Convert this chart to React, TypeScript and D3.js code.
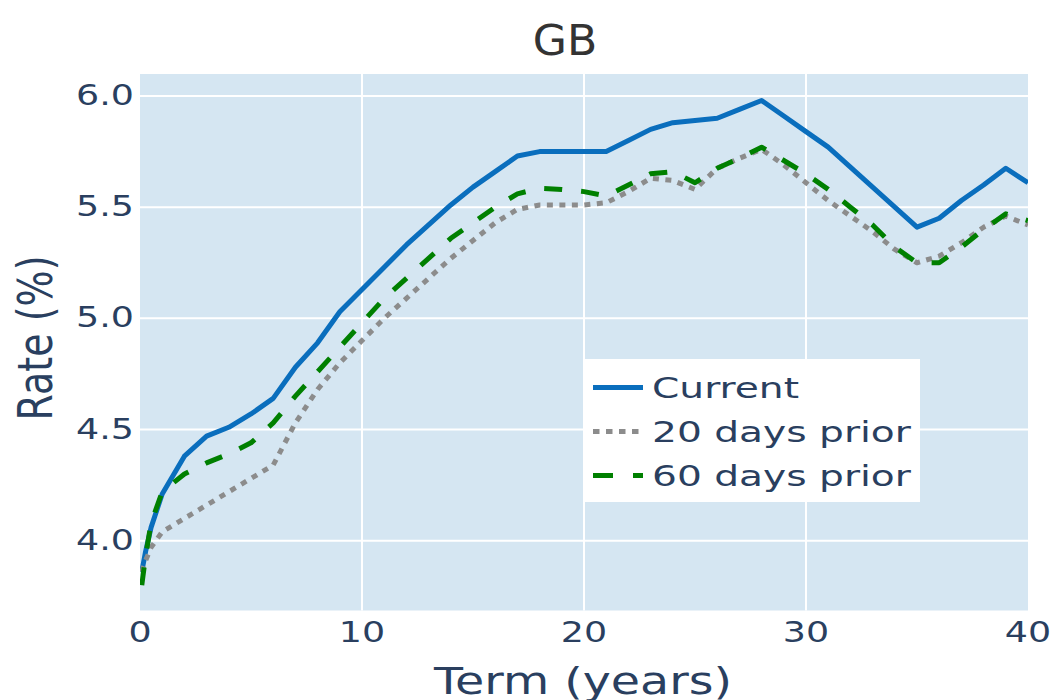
import React from 'react';
import * as d3 from 'd3';

// term structure (years) and rates (%)
const terms = [0.08, 0.25, 0.5, 1, 2, 3, 4, 5, 6, 7, 8, 9, 10, 11, 12, 13, 14, 15, 16, 17, 18, 19, 20,
  21, 22, 23, 24, 25, 26, 27, 28, 29, 30, 31, 32, 33, 34, 35, 36, 37, 38, 39, 40];

const current = [3.86, 3.95, 4.06, 4.21, 4.38, 4.47, 4.51, 4.57, 4.64, 4.78, 4.89, 5.03, 5.13, 5.23, 5.33,
  5.42, 5.51, 5.59, 5.66, 5.73, 5.75, 5.75, 5.75, 5.75, 5.80, 5.85, 5.88, 5.89, 5.90, 5.94, 5.98, 5.91,
  5.84, 5.77, 5.68, 5.59, 5.50, 5.41, 5.45, 5.53, 5.60, 5.675, 5.61];

const prior20 = [3.86, 3.91, 3.97, 4.04, 4.10, 4.16, 4.22, 4.28, 4.34, 4.53, 4.68, 4.80, 4.90, 5.00, 5.09,
  5.18, 5.27, 5.35, 5.43, 5.49, 5.51, 5.51, 5.51, 5.52, 5.57, 5.63, 5.62, 5.58, 5.675, 5.72, 5.76, 5.69,
  5.61, 5.53, 5.46, 5.39, 5.31, 5.25, 5.28, 5.34, 5.41, 5.46, 5.42];

const prior60 = [3.80, 3.93, 4.08, 4.22, 4.30, 4.35, 4.39, 4.44, 4.53, 4.65, 4.76, 4.87, 4.98, 5.09, 5.18,
  5.27, 5.36, 5.43, 5.50, 5.56, 5.585, 5.58, 5.57, 5.55, 5.60, 5.65, 5.66, 5.61, 5.675, 5.72, 5.77, 5.71,
  5.65, 5.58, 5.50, 5.42, 5.32, 5.25, 5.25, 5.32, 5.40, 5.47, 5.44];

const xTicks = [0, 10, 20, 30, 40];
const yTicks = [4.0, 4.5, 5.0, 5.5, 6.0];

const series = [
  { name: 'Current', values: current, color: '#0a6ebd', dash: undefined },
  { name: '20 days prior', values: prior20, color: '#8c8c8c', dash: '6,6.5' },
  { name: '60 days prior', values: prior60, color: '#008000', dash: '18,19' },
];

const W = 1056;
const H = 700;
const left = 140, right = 1028, top = 74, bottom = 610.5;
const ink = '#2a3f5f';
const font = '"DejaVu Sans", Verdana, sans-serif';

// text looks stretched sideways in the original
const SText = ({ x, y, sx = 1.3, size, anchor = 'start', fill = ink, rotate = 0, children }: any) => (
  <text
    transform={`translate(${x},${y}) scale(${sx},1)${rotate ? ` rotate(${rotate})` : ''}`}
    textAnchor={anchor}
    fontFamily={font}
    fontSize={size}
    fill={fill}
  >
    {children}
  </text>
);

export default function App() {
  const x = d3.scaleLinear().domain([0, 40]).range([left, right]);
  const y = d3.scaleLinear().domain([3.686, 6.099]).range([bottom, top]);

  const line = (vals: number[]) =>
    d3.line<number>()
      .x((_, i) => x(terms[i]))
      .y(d => y(d))(vals) || '';

  const legendX = 585, legendY = 359;
  const rowY = (i: number) => 387.5 + i * 44;

  return (
    <svg width={W} height={H} style={{ position: 'absolute', left: 0, top: 0 }}>
      <rect width={W} height={H} fill="#fff" />
      <rect x={left} y={top} width={right - left} height={bottom - top} fill="#d5e6f2" />

      {xTicks.filter(t => t > 0 && t < 40).map(t => (
        <line key={t} x1={x(t)} x2={x(t)} y1={top} y2={bottom} stroke="#fff" strokeWidth={2} />
      ))}
      {yTicks.map(t => (
        <line key={t} x1={left} x2={right} y1={y(t)} y2={y(t)} stroke="#fff" strokeWidth={2} />
      ))}

      <defs>
        <clipPath id="plot">
          <rect x={left} y={top} width={right - left} height={bottom - top} />
        </clipPath>
      </defs>
      <g clipPath="url(#plot)">
        {series.map(s => (
          <path key={s.name} d={line(s.values)} fill="none" stroke={s.color} strokeWidth={5}
            strokeDasharray={s.dash} strokeLinejoin="round" />
        ))}
      </g>

      {xTicks.map(t => (
        <SText key={t} x={x(t)} y={642} size={28} anchor="middle">{t}</SText>
      ))}
      {yTicks.map(t => (
        <SText key={t} x={134} y={y(t) + 9} size={28} anchor="end">{t.toFixed(1)}</SText>
      ))}

      <SText x={583} y={694} size={38} sx={1.25} anchor="middle">Term (years)</SText>
      <SText x={52} y={338} size={38} sx={1.25} anchor="middle" rotate={-90}>Rate (%)</SText>
      <SText x={565} y={55} size={42} sx={1.05} anchor="middle" fill="#333">GB</SText>

      <rect x={legendX} y={legendY} width={335} height={143} fill="#fff" />
      {series.map((s, i) => (
        <g key={s.name}>
          <line x1={593} x2={643} y1={rowY(i)} y2={rowY(i)} stroke={s.color} strokeWidth={5}
            strokeDasharray={s.dash ? (i === 1 ? '6.5,6.5' : '20,20') : undefined} />
          <SText x={652} y={rowY(i) + 10.5} size={29} sx={1.35}>{s.name}</SText>
        </g>
      ))}
    </svg>
  );
}
